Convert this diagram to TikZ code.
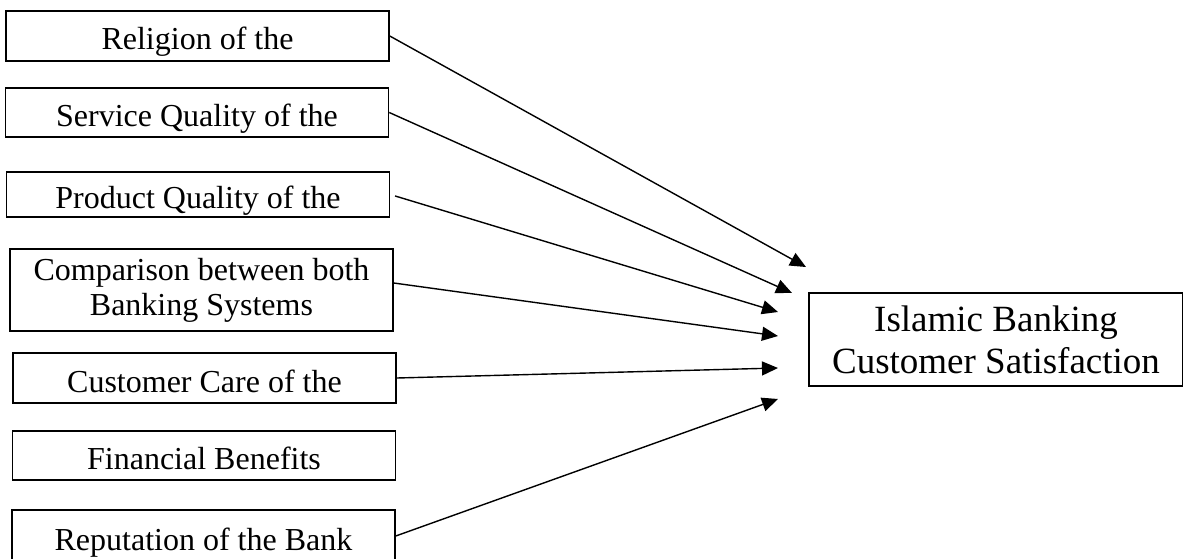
\documentclass[tikz,border=0pt]{standalone}
\usepackage{fontspec}
\setmainfont{Liberation Serif}
\usepackage{xcolor}
\usepackage{tikz}
\usetikzlibrary{arrows.meta}

\begin{document}
\begin{tikzpicture}[x=1pt,y=-1pt]
				\useasboundingbox (0,0) rectangle (1183,559);

				\begin{scope}[every node/.style={rectangle,draw,line width=1.5pt,inner sep=0pt,align=center,
				              minimum width=383pt,font=\fontsize{32}{35}\selectfont},
				              onerow/.style={text height=28pt,text depth=0pt}]
				    \node[onerow,minimum height=50pt]  (R)  at (197.5,36)  {Religion of the};
				    \node[onerow,minimum height=49pt]  (SQ) at (197,112.5) {Service Quality of the};
				    \node[onerow,minimum height=45pt]  (PQ) at (198,194.5) {Product Quality of the};
				    \node[minimum height=82pt]         (CB) at (201.5,290) {Comparison between both\\Banking Systems};
				    \node[onerow,minimum height=50pt]  (CC) at (204.5,378) {Customer Care of the};
				    \node[onerow,minimum height=49pt]  (FB) at (204,455.5) {Financial Benefits};
				    \node[onerow,minimum height=52pt]  (RB) at (203.5,536) {Reputation of the Bank};
				    \node[minimum width=374pt,minimum height=93pt,font=\fontsize{37}{42}\selectfont]
				          (IB) at (996,339.5) {Islamic Banking\\Customer Satisfaction};
				\end{scope}

				% arrow tips stop short of the target box
				\coordinate (t1) at (806,267);
				\coordinate (t2) at (792,293);
				\coordinate (t3) at (778,312);
				\coordinate (t4) at (778,336);
				\coordinate (t5) at (778,368);
				\coordinate (t6) at (778,399);

				\begin{scope}[>={Triangle[length=16pt,width=14pt]},
				              every edge/.style={draw=black,line width=1.4pt}]
				    \path [->] (R.east) edge (t1);
				    \path [->] (SQ.east) edge (t2);
				    \path [->,shorten <=5pt] (PQ.east) edge (t3);
				    \path [->] ([yshift=7pt]CB.east) edge (t4);
				    \path [->] (CC.east) edge (t5);
				    \path [->] (RB.east) edge (t6);
				\end{scope}
				\end{tikzpicture}
\end{document}
